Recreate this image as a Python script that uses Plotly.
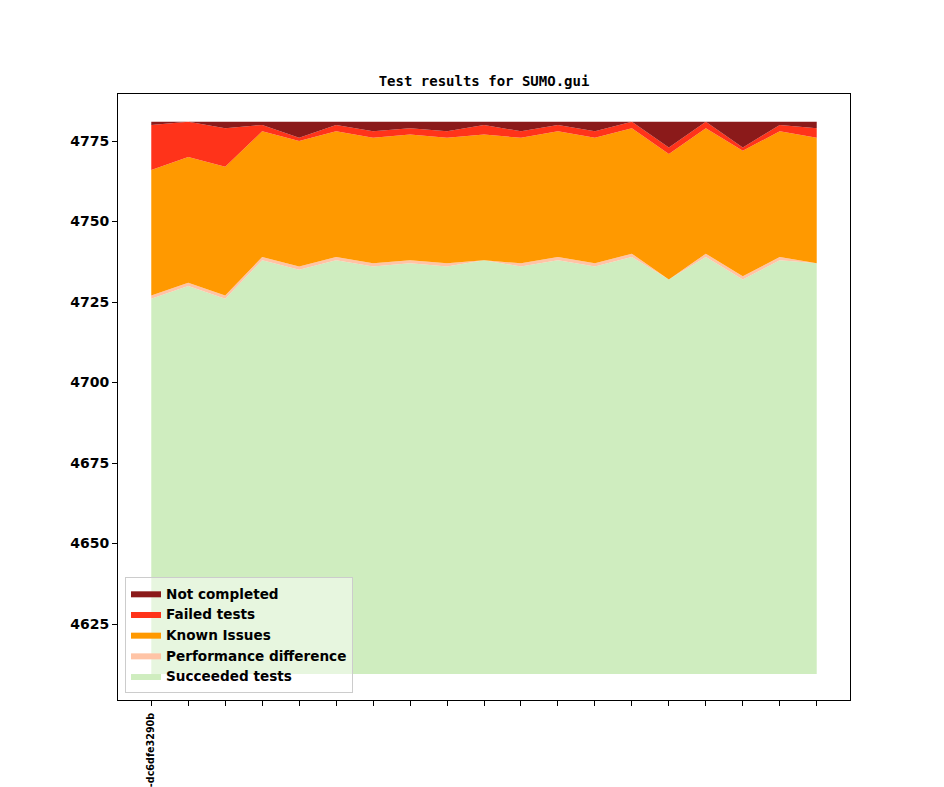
import plotly.graph_objects as go

# ---- data ----
x_index = list(range(19))
tick_labels = ["-dc6dfe3290b"] + [""] * 18

baseline = 4609.5

succeeded = [4726, 4730, 4726, 4738, 4735, 4738, 4736, 4737, 4736, 4738,
             4736, 4738, 4736, 4739, 4732, 4739, 4732, 4738, 4737]
performance_diff = [1, 1, 1, 1, 1, 1, 1, 1, 1, 0,
                    1, 1, 1, 1, 0, 1, 1, 1, 0]
known_issues = [39, 39, 40, 39, 39, 39, 39, 39, 39, 39,
                39, 39, 39, 39, 39, 39, 39, 39, 39]
failed_tests = [14, 11, 12, 2, 1, 2, 2, 2, 2, 3,
                2, 2, 2, 2, 2, 2, 1, 2, 3]
not_completed = [1, 0, 2, 1, 5, 1, 3, 2, 3, 1,
                 3, 1, 3, 0, 8, 0, 8, 1, 2]

series = [
    ("Succeeded tests", succeeded, "#cfedbf"),
    ("Performance difference", performance_diff, "#ffc4a6"),
    ("Known Issues", known_issues, "#ff9900"),
    ("Failed tests", failed_tests, "#ff331a"),
    ("Not completed", not_completed, "#8b1a1a"),
]

fig = go.Figure()
fig.add_trace(go.Scatter(x=x_index, y=[baseline] * len(x_index), mode="lines",
                         line=dict(width=0), showlegend=False, hoverinfo="skip"))

cum = None
for name, vals, color in series:
    if cum is None:
        cum = list(vals)  # first series is absolute
    else:
        cum = [c + v for c, v in zip(cum, vals)]
    fig.add_trace(go.Scatter(x=x_index, y=cum, name=name, mode="lines",
                             line=dict(width=0, color=color), fill="tonexty",
                             fillcolor=color))

W, H = 936, 779
fig.update_layout(
    width=W, height=H,
    margin=dict(l=110, r=94, t=86, b=87, autoexpand=False),
    paper_bgcolor="white", plot_bgcolor="white",
    title=dict(text="Test results for SUMO.gui", x=(110 + 366) / W, xanchor="center",
               y=1 - 73 / H, yanchor="middle", yref="container",
               font=dict(family="DejaVu Sans Mono", size=14, color="black", weight="bold")),
    legend=dict(x=0.0096, y=0.0116, xanchor="left", yanchor="bottom",
                traceorder="reversed", bgcolor="rgba(255,255,255,0.5)",
                bordercolor="#cccccc", borderwidth=1, itemwidth=30,
                tracegroupgap=0,
                font=dict(family="DejaVu Sans", size=13.6, color="black", weight="bold")),
    xaxis=dict(range=[-0.9, 18.9], tickvals=x_index, ticktext=tick_labels,
               tickangle=-90, showline=True, mirror=True, linecolor="black",
               linewidth=1, ticks="outside", ticklen=5, tickcolor="black",
               showgrid=False, zeroline=False, automargin=False,
               ticklabelstandoff=3,
               tickfont=dict(family="DejaVu Sans", size=9.6, color="black", weight="bold")),
    yaxis=dict(range=[4601.4, 4789.6], tickvals=[4625, 4650, 4675, 4700, 4725, 4750, 4775],
               showline=True, mirror=True, linecolor="black", linewidth=1,
               ticks="outside", ticklen=5, tickcolor="black", showgrid=False,
               zeroline=False, automargin=False,
               tickfont=dict(family="DejaVu Sans", size=14, color="black", weight="bold")),
)

fig.write_html("out.html")
